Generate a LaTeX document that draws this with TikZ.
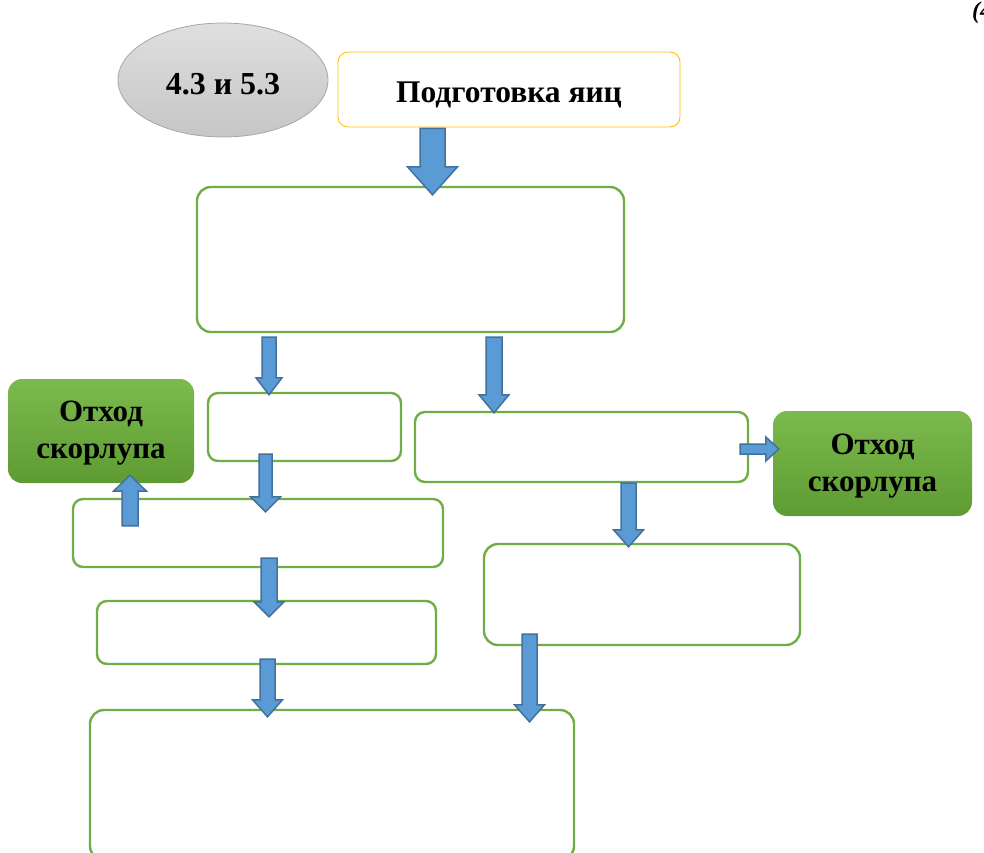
\documentclass[tikz,border=0pt]{standalone}
\usepackage{fontspec}
\setmainfont{Liberation Serif}
\usetikzlibrary{calc,shapes.geometric}
\definecolor{boxgreen}{HTML}{70AD47}
\definecolor{arrowfill}{HTML}{5B9BD5}
\definecolor{arrowline}{HTML}{41719C}
\definecolor{gold}{HTML}{FFC000}
\definecolor{wtop}{HTML}{7CB94E}
\definecolor{wbot}{HTML}{5E9C33}
\tikzset{
  stepbox/.style={draw=boxgreen, line width=2.4pt, rounded corners=14pt, fill=white},
  wastebox/.style={rounded corners=14pt, top color=wtop, bottom color=wbot, draw=none},
  wastetext/.style={font=\bfseries\fontsize{31}{37}\selectfont, align=center, text=black, inner sep=0pt},
  bigtext/.style={font=\bfseries\fontsize{31.5}{36}\selectfont, inner sep=0pt},
  blockarrow/.style={fill=arrowfill, draw=arrowline, line width=1.5pt, line join=miter},
}
\newcommand\barrow[5]{%
  \coordinate (bs) at #1; \coordinate (bt) at #2;
  \coordinate (bh) at ($(bt)!#5!(bs)$);
  \draw[blockarrow] ($(bs)!#3!90:(bt)$) -- ($(bh)!#3!90:(bt)$) -- ($(bh)!#4!90:(bt)$) -- (bt)
     -- ($(bh)!#4!-90:(bt)$) -- ($(bh)!#3!-90:(bt)$) -- ($(bs)!#3!-90:(bt)$) -- cycle;}
\begin{document}
\begin{tikzpicture}[x=1pt,y=-1pt]
\useasboundingbox (0,0) rectangle (984,852);
% ellipse
\node[draw=gray!70, line width=0.8pt, ellipse, top color=gray!25, bottom color=gray!45,
  minimum width=210, minimum height=114, inner sep=0pt] (ell) at (223,80) {};
\node[bigtext, font=\bfseries\fontsize{32}{36}\selectfont] (ellt) at ([yshift=-4]ell.center) {4.3 и 5.3};
% top box
\node[draw=gold, line width=0.9pt, rounded corners=10pt, minimum width=342, minimum height=75,
  inner sep=0pt] (top) at (509,89.5) {};
\node[bigtext] (topt) at ([yshift=-5]top.center) {Подготовка яиц};
% step boxes
\node[stepbox, minimum width=427, minimum height=145, inner sep=0pt] (big) at (410.5,259.5) {};
\node[stepbox, rounded corners=10pt, minimum width=193, minimum height=68, inner sep=0pt] (A) at (304.5,427) {};
\node[stepbox, rounded corners=10pt, minimum width=333, minimum height=70, inner sep=0pt] (B) at (581.5,447) {};
\node[stepbox, rounded corners=10pt, minimum width=370, minimum height=68, inner sep=0pt] (C) at (258,533) {};
\node[stepbox, rounded corners=10pt, minimum width=339, minimum height=63, inner sep=0pt] (D) at (266.5,632.5) {};
\node[stepbox, minimum width=316, minimum height=101, inner sep=0pt] (E) at (642,594.5) {};
\node[stepbox, minimum width=484, minimum height=150, inner sep=0pt] (F) at (332,785) {};
% waste boxes
\node[wastebox, minimum width=186, minimum height=104, inner sep=0pt] (WL) at (101,431) {};
\node[wastetext] (WLt) at ([yshift=-2]WL.center) {Отход\\скорлупа};
\node[wastebox, minimum width=199, minimum height=105, inner sep=0pt] (WR) at (872.5,463.5) {};
\node[wastetext] (WRt) at ([yshift=-3]WR.center) {Отход\\скорлупа};
% corner text
\node[anchor=north west, inner sep=0pt, font=\bfseries\itshape\fontsize{24}{28}\selectfont] (corner) at (972,2) {(4};
% arrows
\barrow{([yshift=-1]top.south -| 432.5,0)}{([yshift=-9]big.north -| 432.5,0)}{12.5pt}{25pt}{28pt}
\barrow{([yshift=-4]big.south -| 269,0)}{([yshift=-3]A.north -| 269,0)}{7pt}{13pt}{17pt}
\barrow{([yshift=-4]big.south -| 494,0)}{([yshift=-2]B.north -| 494,0)}{8pt}{15pt}{18pt}
\barrow{([yshift=8]A.south -| 265.5,0)}{([yshift=-14]C.north -| 265.5,0)}{6.5pt}{15pt}{15pt}
\barrow{([yshift=-28]C.north -| 130,0)}{([yshift=8]WL.south -| 130,0)}{8pt}{16.5pt}{16pt}
\barrow{([yshift=10]C.south -| 269,0)}{([yshift=-17]D.north -| 269,0)}{8pt}{15pt}{15pt}
\barrow{([yshift=6]D.south -| 267.5,0)}{([yshift=-8]F.north -| 267.5,0)}{7.5pt}{15pt}{17pt}
\barrow{(B.south -| 628.5,0)}{([yshift=-4]E.north -| 628.5,0)}{7.5pt}{15pt}{17pt}
\barrow{([yshift=12]E.south -| 529.5,0)}{([yshift=-13]F.north -| 529.5,0)}{7.5pt}{15pt}{17pt}
\barrow{([xshift=-9]B.east |- 0,449)}{([xshift=6]WR.west |- 0,449)}{5pt}{12pt}{13pt}
\end{tikzpicture}
\end{document}
